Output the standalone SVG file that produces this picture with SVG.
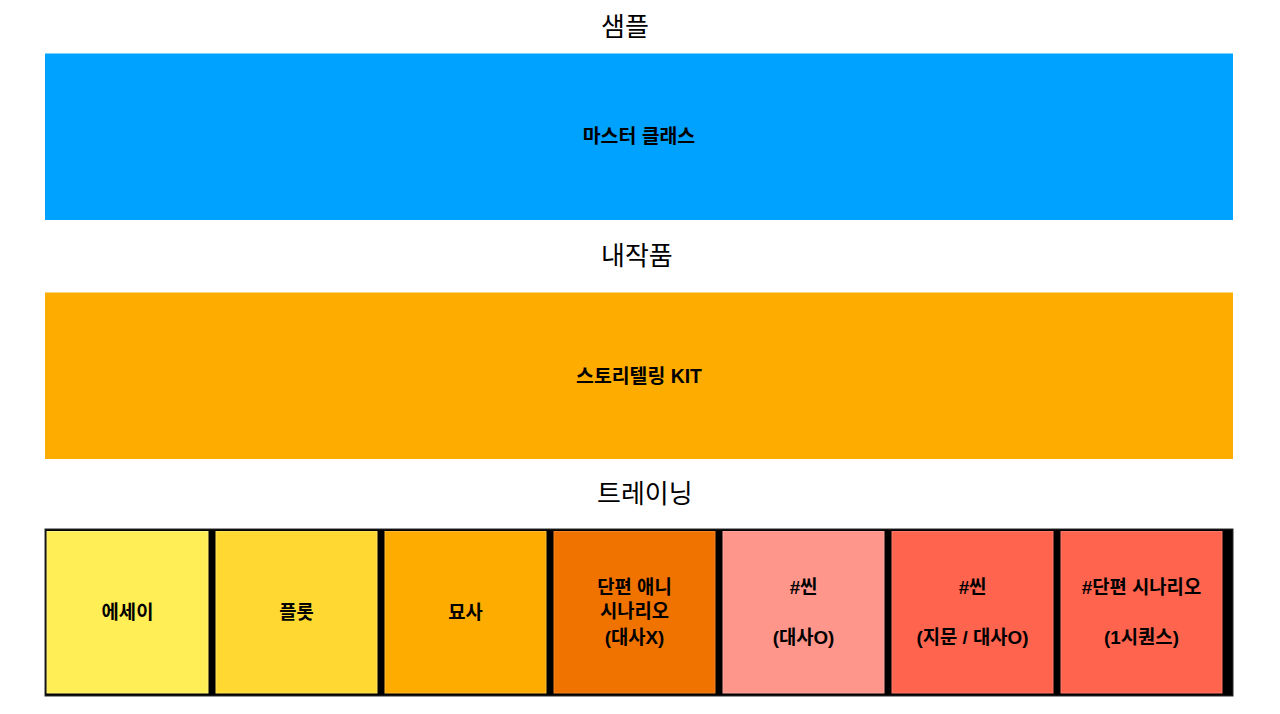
<svg xmlns="http://www.w3.org/2000/svg" width="1280" height="714" viewBox="0 0 1280 714">
<style>
.title{font-family:"Noto Sans CJK KR","Noto Sans",sans-serif;font-size:26px;fill:#000;}
.lbl{font-family:"Liberation Sans","Noto Sans CJK KR",sans-serif;font-weight:bold;font-size:18.8px;fill:#000;text-anchor:middle;}
.big{font-size:19.4px;}
.cell{stroke-width:1;}
</style>
<rect width="1280" height="714" fill="#ffffff"/>
<g id="title-sample"><text class="title" x="601" y="36">샘플</text></g>
<g id="master-class">
<rect x="45" y="53.5" width="1188" height="166.5" fill="#00A2FF"/>
<text class="lbl big" x="639" y="143">마스터 클래스</text>
</g>
<g id="title-works"><text class="title" x="601" y="265">내작품</text></g>
<g id="storytelling-kit">
<rect x="45" y="292.5" width="1188" height="166.5" fill="#FEAC00"/>
<text class="lbl big" x="639" y="383">스토리텔링 KIT</text>
</g>
<g id="title-training"><text class="title" x="597" y="503">트레이닝</text></g>
<g id="training-bar">
<rect x="45" y="529" width="1188" height="167" fill="#000" stroke="#2a2a2a" stroke-width="1"/>
</g>
<g id="essay">
<rect class="cell" x="47" y="531.5" width="161" height="161.5" fill="#FFEE55" stroke="#FFF27E"/>
<text class="lbl" x="127.5" y="619">에세이</text>
</g>
<g id="plot">
<rect class="cell" x="216" y="531.5" width="161" height="161.5" fill="#FFD932" stroke="#FFE15A"/>
<text class="lbl" x="296.5" y="619">플롯</text>
</g>
<g id="description">
<rect class="cell" x="385" y="531.5" width="161" height="161.5" fill="#FEAC00" stroke="#FFBA33"/>
<text class="lbl" x="465.5" y="619">묘사</text>
</g>
<g id="short-anime">
<rect class="cell" x="554" y="531.5" width="161" height="161.5" fill="#F07300" stroke="#F28526"/>
<text class="lbl" x="634.5" y="594">단편 애니</text>
<text class="lbl" x="634.5" y="618">시나리오</text>
<text class="lbl" x="634.5" y="644">(대사X)</text>
</g>
<g id="scene-dialogue">
<rect class="cell" x="723" y="531.5" width="161" height="161.5" fill="#FF968B" stroke="#FFA69C"/>
<text class="lbl" x="803.5" y="594">#씬</text>
<text class="lbl" x="803.5" y="644">(대사O)</text>
</g>
<g id="scene-narration">
<rect class="cell" x="892" y="531.5" width="161" height="161.5" fill="#FF644F" stroke="#FF7A68"/>
<text class="lbl" x="972.5" y="594">#씬</text>
<text class="lbl" x="972.5" y="644">(지문 / 대사O)</text>
</g>
<g id="short-scenario">
<rect class="cell" x="1061" y="531.5" width="161" height="161.5" fill="#FF644F" stroke="#FF7A68"/>
<text class="lbl" x="1141.5" y="594">#단편 시나리오</text>
<text class="lbl" x="1141.5" y="644">(1시퀀스)</text>
</g>
<g id="connectors"></g>
</svg>
